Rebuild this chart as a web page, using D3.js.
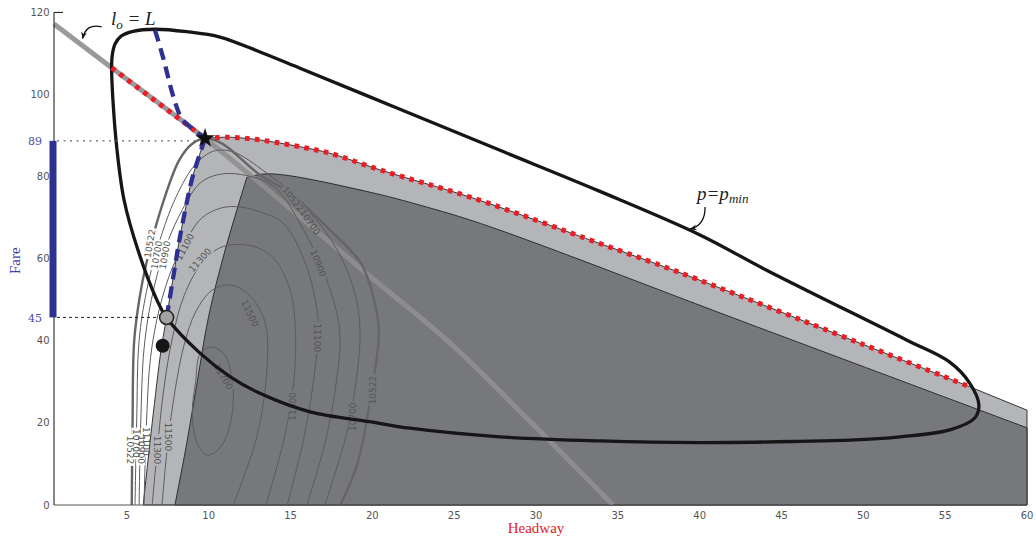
<!DOCTYPE html>
<html><head><meta charset="utf-8">
<script src="https://cdn.jsdelivr.net/npm/d3@7"></script>
<style>body{margin:0;background:#fff}svg{display:block}</style>
</head><body>
<svg id="c" width="1036" height="542"></svg>
<script>
// ---------- data ----------
const xTicks=[5,10,15,20,25,30,35,40,45,50,55,60];
const yTicks=[0,20,40,60,80,100,120];
const fareMarks=[88.7,45.7];
const fareMarkLabels=["89","45"];
const xLabel="Headway", yLabel="Fare";

const optimum=[9.78,89.3];      // star
const lowPoint=[7.43,45.7];     // grey circle
const blackPoint=[7.19,38.8];   // black dot

const lightLeft=[[6.0,0],[6.55,20],[7.1,38],[7.43,45.7],[7.84,55.6],[8.25,65.4],[8.97,79.2],[9.27,83.2],[9.78,89.3]];
const lightTop=[[9.78,89.3],[11.1,89.6],[12.6,89.2],[14.16,88.3],[15.8,87.1],[17.4,85.7],[20.5,81.6],[26.2,74.7],[33.9,63.7],[38.6,56.9],[49.8,39.4],[56.5,28.8]];
const lightRight=[[56.5,28.8],[60,23.1],[60,0]];

const darkLeft=[[7.94,0],[8.66,15],[9.3,30],[10.0,46],[11.0,62],[12.33,79.8]];
const darkTop=[[12.33,79.8],[13.3,80.6],[14.4,80.5],[16.4,79.2],[18.4,77.5],[20.5,75.6],[22.5,73.5],[26.6,68.6],[43,44.15],[60,18.8]];
const darkRight=[[60,18.8],[60,0]];

const loLine=[[0.55,117.2],[4.07,106.5],[9.78,89.3],[13.13,78.4],[19.65,56.4],[24.54,40.2],[29.6,20.5],[34.7,0]];
const redLeft=[[4.07,106.5],[9.78,89.3]];
const blueUpper=[[6.72,115.7],[7.23,108.8],[7.84,99.5],[8.35,94.2],[8.96,91.8],[9.78,89.3]];
const blueLower=[[9.78,89.3],[9.27,83.2],[8.97,79.2],[8.25,65.4],[7.84,55.6],[7.43,45.7]];

const pminLoop=[[4.07,106.5],[4.11,109.6],[4.28,112.3],[4.64,114.2],[5.38,115.4],[6.72,115.9],[8.66,115.3],[10.69,114.0],[13.14,110.35],[15.58,106.4],[21.69,96.4],[27.8,86.4],[33.91,76.4],[40.02,65.8],[44.09,57.2],[52.64,40.2],[55.28,34.8],[56.5,29.7],[57.06,24.4],[56.81,21.2],[55.28,18.3],[52.23,16.6],[49.18,15.8],[46.12,15.5],[40.0,15.2],[33.9,15.6],[27.8,16.6],[22.3,18.7],[19.85,20.3],[16.19,22.7],[13.13,27.2],[11.3,31.3],[9.47,37.0],[7.43,45.6],[6.84,49.9],[5.68,62.1],[4.83,74.3],[4.40,86.5],[4.15,98.7]];

const c10522=[[5.3,0],[5.35,20],[5.45,40],[5.8,51],[6.2,59],[7.0,71],[8.2,84],[9.0,88],[9.78,89.3],[10.8,88.1],[13.1,80.5],[15.0,75.9],[17.2,67.8],[19.3,58.9],[20.1,50],[20.4,42],[19.9,26.4],[19.1,10.2],[18.05,0]];
const c10700=[[5.5,0],[5.6,20],[5.75,40],[6.2,52],[6.9,63],[8.0,75],[9.2,83],[10.3,86.2],[11.5,86],[13.5,81],[15.6,74],[17.8,62.5],[18.9,52],[19.25,42.6],[19.0,30],[18.4,17],[17.1,0]];
const c10900=[[5.75,0],[5.85,20],[6.05,38],[6.5,50],[7.3,62],[8.4,72],[9.5,78.5],[10.6,80.5],[12.0,80.5],[14.0,77.5],[15.8,67],[17.2,55],[18.0,42.6],[17.8,30],[17.1,15],[16.0,0]];
const c11100=[[6.05,0],[6.2,20],[6.45,36],[7.0,48],[7.8,58],[8.7,65],[9.6,70],[10.8,72.4],[11.9,72.6],[13.3,71.2],[14.6,68.5],[15.9,59],[16.6,48],[16.7,42.6],[16.4,30],[15.8,16],[14.8,0]];
const c11300=[[6.55,0],[6.85,13],[7.25,28],[7.8,41],[8.5,51],[9.5,58.5],[10.6,62.5],[11.8,63.5],[13.1,62.5],[14.1,59.5],[15.0,52],[15.3,42.6],[15.2,30],[14.6,16],[13.5,0]];
const c11500=[[7.15,0],[7.5,15],[7.95,28],[8.5,39],[9.2,47],[10.2,52.3],[11.3,53.6],[12.4,51.5],[13.2,47],[13.55,42.6],[13.5,30],[12.9,16],[11.5,0]];
const c11700=[[9.5,37],[9.2,30],[9.0,22],[9.3,15],[9.9,12.2],[10.6,13.5],[11.2,18],[11.5,24.8],[11.4,31],[11.0,36.5],[10.2,38.5]];

const contourLabels=[
 ["10522",15.15,74.5,52],["10700",16.19,68.9,55],["10900",16.7,58.9,68],
 ["11100",8.55,62.9,-62],["11300",9.47,59.7,-48],["11500",12.52,46.7,65],
 ["11700",10.9,31.3,60],["11100",16.6,40.7,90],["11300",15.17,24,-90],
 ["10700",18.83,21.5,-90],["10522",20.05,28,-90],
 ["10522",5.19,13.4,90],["10700",5.55,15,90],["10900",5.85,13.5,90],["11100",6.2,15.5,90],
 ["11300",6.87,13.4,90],["11500",7.54,16.6,90],
 ["10522",6.41,63.7,-80],["10700",6.82,60.9,-80],["10900",7.33,60.9,-80]
];

// ---------- drawing ----------
const svg=d3.select("#c");
const x=d3.scaleLinear().domain([0.55,60]).range([54,1027]);
const y=d3.scaleLinear().domain([0,120]).range([505,12.4]);
const ln=c=>d3.line().x(d=>x(d[0])).y(d=>y(d[1])).curve(c);
const CR=d3.curveCatmullRom.alpha(0.5), LIN=d3.curveLinear;
const cont=s=>s.replace(/^M/,"L");

const defs=svg.append("defs");
function arrowMarker(id){
  defs.append("marker").attr("id",id).attr("viewBox","-10 -5 12 10").attr("refX",0).attr("refY",0)
   .attr("markerWidth",9).attr("markerHeight",9).attr("markerUnits","userSpaceOnUse").attr("orient","auto")
   .append("path").attr("d","M0,0 L-9,-4 L-6,0 L-9,4 Z").attr("fill","#111");
}
arrowMarker("arr");

// light region
svg.append("path")
 .attr("d",ln(CR)(lightLeft)+cont(ln(CR)(lightTop))+cont(ln(LIN)(lightRight))+"Z")
 .attr("fill","#b4b5b9").attr("stroke","#222").attr("stroke-width",0.9);
// dark region
svg.append("path")
 .attr("d",ln(CR)(darkLeft)+cont(ln(CR)(darkTop))+cont(ln(LIN)(darkRight))+"Z")
 .attr("fill","#77787c").attr("stroke","#222").attr("stroke-width",0.9);

// lo = L line
svg.append("path").attr("d",ln(CR)(loLine)).attr("fill","none")
 .attr("stroke","#8f8f8f").attr("stroke-opacity",0.9).attr("stroke-width",5);

// contours with label gaps
const mask=defs.append("mask").attr("id","lblMask").attr("maskUnits","userSpaceOnUse")
 .attr("x",0).attr("y",0).attr("width",1036).attr("height",542);
mask.append("rect").attr("width",1036).attr("height",542).attr("fill","white");
const cg=svg.append("g").attr("mask","url(#lblMask)").attr("fill","none");
[c10700,c10900,c11100,c11300,c11500].forEach(c=>{
  cg.append("path").attr("d",ln(CR)(c)).attr("stroke","#5c5c5c").attr("stroke-width",1);
});
cg.append("path").attr("d",ln(d3.curveCatmullRomClosed)(c11700)).attr("stroke","#5c5c5c").attr("stroke-width",1);
cg.append("path").attr("d",ln(CR)(c10522)).attr("stroke","#666").attr("stroke-width",2.4);
const lg=svg.append("g").attr("font-family","DejaVu Sans").attr("font-size",9).attr("fill","#555");
contourLabels.forEach(([t,h,p,r])=>{
  const tr=`translate(${x(h)},${y(p)}) rotate(${r})`;
  const tx=lg.append("text").attr("transform",tr).attr("text-anchor","middle").attr("dy","0.35em").text(t);
  const w=tx.node().getComputedTextLength();
  mask.append("rect").attr("transform",tr).attr("x",-w/2-1.5).attr("y",-4.5).attr("width",w+3).attr("height",9).attr("fill","black");
});

// p = pmin loop
svg.append("path").attr("d",ln(d3.curveCatmullRomClosed.alpha(0.5))(pminLoop)).attr("fill","none")
 .attr("stroke","#161616").attr("stroke-width",3.3);

// red dotted
[redLeft,lightTop].forEach(s=>{
  svg.append("path").attr("d",ln(CR)(s)).attr("fill","none").attr("stroke","#ee1c25")
   .attr("stroke-width",5).attr("stroke-dasharray","4.6,5.4");
});
// blue dashed
[blueUpper,blueLower].forEach(s=>{
  svg.append("path").attr("d",ln(CR)(s)).attr("fill","none").attr("stroke","#2e3192")
   .attr("stroke-width",4.3).attr("stroke-dasharray","12,7");
});

// axes
svg.append("line").attr("x1",54).attr("x2",1027).attr("y1",505).attr("y2",505).attr("stroke","#555").attr("stroke-width",1);
svg.append("line").attr("x1",54).attr("x2",54).attr("y1",y(120)).attr("y2",505).attr("stroke","#111").attr("stroke-width",1);
svg.append("line").attr("x1",54).attr("x2",63).attr("y1",y(120)).attr("y2",y(120)).attr("stroke","#111").attr("stroke-width",1);
const tg=svg.append("g").attr("font-family","DejaVu Sans").attr("font-size",10).attr("fill","#555");
xTicks.forEach(t=>tg.append("text").attr("x",x(t)).attr("y",519).attr("text-anchor","middle").text(t));
yTicks.forEach(t=>tg.append("text").attr("x",49.5).attr("y",y(t)).attr("dy","0.35em").attr("text-anchor","end").text(t));

// fare range bar and guides
svg.append("rect").attr("x",49.5).attr("width",7).attr("y",y(fareMarks[0])).attr("height",y(fareMarks[1])-y(fareMarks[0])).attr("fill","#2e3192");
svg.append("line").attr("x1",57).attr("x2",x(optimum[0])).attr("y1",y(fareMarks[0])).attr("y2",y(fareMarks[0]))
 .attr("stroke","#666").attr("stroke-width",1.2).attr("stroke-dasharray","2,4.5");
svg.append("line").attr("x1",57).attr("x2",x(lowPoint[0])-7).attr("y1",y(fareMarks[1])).attr("y2",y(fareMarks[1]))
 .attr("stroke","#222").attr("stroke-width",1).attr("stroke-dasharray","3,3");
fareMarks.forEach((v,i)=>svg.append("text").attr("x",42).attr("y",y(v)).attr("dy","0.38em").attr("text-anchor","end")
 .attr("font-family","DejaVu Serif").attr("font-size",11).attr("fill","#4a4aa8").text(fareMarkLabels[i]));

// axis titles
svg.append("text").attr("x",x(30)).attr("y",533).attr("text-anchor","middle").attr("font-family","Liberation Serif")
 .attr("font-size",15).attr("fill","#e8202a").text(xLabel);
svg.append("text").attr("transform",`translate(20,${y(59.5)}) rotate(-90)`).attr("text-anchor","middle").attr("font-family","Liberation Serif")
 .attr("font-size",15).attr("fill","#3d3da6").text(yLabel);

// markers
svg.append("circle").attr("cx",x(lowPoint[0])).attr("cy",y(lowPoint[1])).attr("r",7).attr("fill","#a3a3a3").attr("stroke","#222").attr("stroke-width",1.5);
svg.append("circle").attr("cx",x(blackPoint[0])).attr("cy",y(blackPoint[1])).attr("r",7).attr("fill","#161616");
svg.append("path").attr("d",d3.symbol(d3.symbolStar,120)()).attr("transform",`translate(${x(optimum[0])},${y(optimum[1])})`).attr("fill","#111");

// annotations
const ann=svg.append("g").attr("font-family","Liberation Serif").attr("font-style","italic").attr("fill","#222");
const t1=ann.append("text").attr("x",x(4.03)).attr("y",y(116.9)).attr("font-size",19);
t1.append("tspan").text("l");
t1.append("tspan").attr("font-size",13).attr("dy",4).text("o");
t1.append("tspan").attr("dy",-4).text(" = L");
const t2=ann.append("text").attr("x",x(39.84)).attr("y",y(74.3)).attr("font-size",19);
t2.append("tspan").text("p=p");
t2.append("tspan").attr("font-size",13).attr("dy",3).text("min");
const qp=(a,b,c)=>`M${x(a[0])},${y(a[1])} Q${x(b[0])},${y(b[1])} ${x(c[0])},${y(c[1])}`;
svg.append("path").attr("d",qp([3.46,116.5],[2.5,117.4],[2.3,113.6])).attr("fill","none").attr("stroke","#111").attr("stroke-width",1.3).attr("marker-end","url(#arr)");
svg.append("path").attr("d",qp([40.33,72.6],[40.35,68.2],[39.41,67.2])).attr("fill","none").attr("stroke","#111").attr("stroke-width",1.3).attr("marker-end","url(#arr)");
</script>
</body></html>
